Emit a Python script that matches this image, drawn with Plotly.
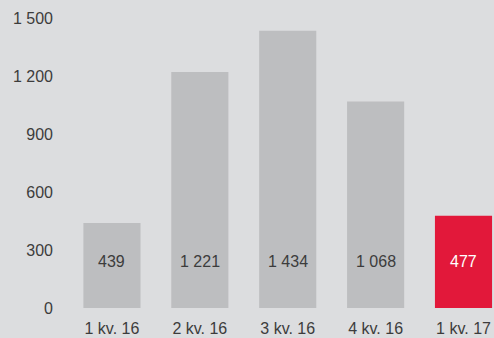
import plotly.graph_objects as go

categories = ["1 kv. 16", "2 kv. 16", "3 kv. 16", "4 kv. 16", "1 kv. 17"]
values = [439, 1221, 1434, 1068, 477]
y_ticks = [0, 300, 600, 900, 1200, 1500]

GREY = "#bdbec0"
RED = "#e2183a"
BG = "#dcdddf"
TXT = "#3c3c3c"

colors = [GREY] * (len(values) - 1) + [RED]
label_colors = [TXT] * (len(values) - 1) + ["#ffffff"]

def fmt(v):
    return f"{v:,}".replace(",", " ")

fig = go.Figure(go.Bar(
    x=categories, y=values, marker_color=colors, marker_line_width=0,
    hoverinfo="skip",
))

label_y = 243
for c, v, lc in zip(categories, values, label_colors):
    fig.add_annotation(x=c, y=label_y, text=fmt(v), showarrow=False,
                       font=dict(size=16, color=lc), yanchor="middle")

fig.update_layout(
    width=494, height=338,
    margin=dict(l=68, r=0, t=10, b=30),
    paper_bgcolor=BG, plot_bgcolor=BG,
    bargap=0.35,
    separators=", ",
    font=dict(family="Liberation Sans, Arial, sans-serif", size=16, color=TXT),
    showlegend=False,
    xaxis=dict(range=[-0.5, 4.347], showgrid=False, zeroline=False, showline=False,
               ticks="", ticklabelstandoff=9),
    yaxis=dict(range=[0, 1541], tickvals=y_ticks,
               ticktext=[fmt(t) for t in y_ticks],
               showgrid=False, zeroline=False, showline=False,
               ticks="", ticklabelstandoff=14),
)

fig.write_html(
    "out.html",
    config={"displayModeBar": False},
    post_script="document.body.style.margin='0';document.body.style.background='" + BG + "';",
)
